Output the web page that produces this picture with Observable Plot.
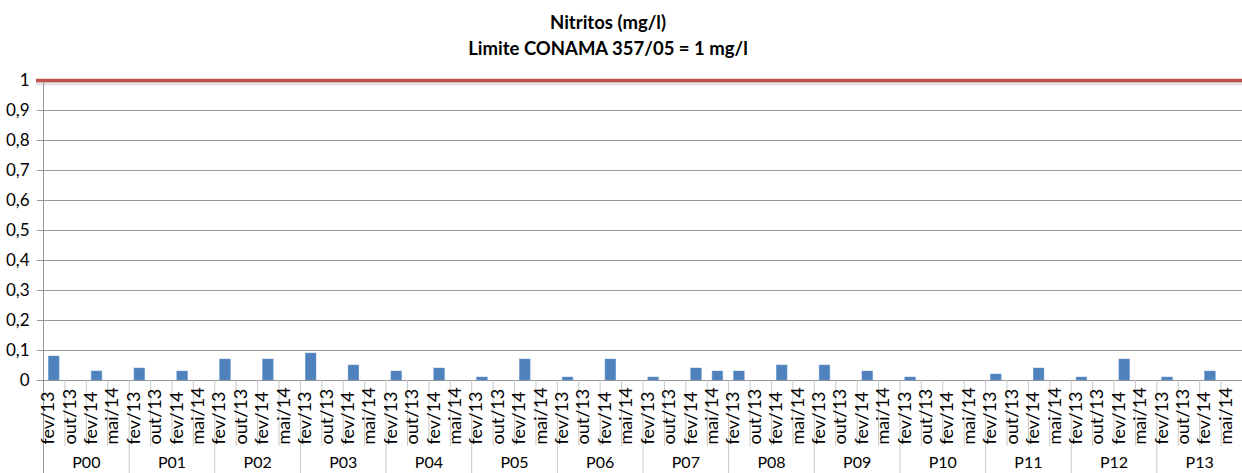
<!DOCTYPE html>
<html>
<head>
<meta charset="utf-8">
<script src="https://cdn.jsdelivr.net/npm/d3@7"></script>
<script src="https://cdn.jsdelivr.net/npm/@observablehq/plot@0.6"></script>
<style>
  html, body { margin: 0; padding: 0; background: #fff; }
  body { width: 1242px; height: 473px; overflow: hidden; font-family: Lato, "Open Sans", sans-serif; }
  #title { height: 62px; box-sizing: border-box; padding-top: 9px; text-align: center; font-weight: bold; font-size: 18.5px; line-height: 26px; color: #000; padding-right: 26px; }
</style>
</head>
<body>
<div id="title"><div>Nitritos (mg/l)</div><div>Limite CONAMA 357/05 = 1 mg/l</div></div>
<div id="chart"></div>
<script>
const groups = ["P00","P01","P02","P03","P04","P05","P06","P07","P08","P09","P10","P11","P12","P13"];
const months = ["fev/13","out/13","fev/14","mai/14"];
const fev13 = [0.08,0.04,0.07,0.09,0.03,0.01,0.01,0.01,0.03,0.05,0.01,0.02,0.01,0.01];
const out13 = [0,0,0,0,0,0,0,0,0,0,0,0,0,0];
const fev14 = [0.03,0.03,0.07,0.05,0.04,0.07,0.07,0.04,0.05,0.03,0,0.04,0.07,0.03];
const mai14 = [0,0,0,0,0,0,0,0.03,0,0,0,0,0,0];
const limit = [1];
const yTicks = [0,0.1,0.2,0.3,0.4,0.5,0.6,0.7,0.8,0.9,1];
const gridTicks = [0,0.1,0.2,0.3,0.4,0.5,0.6,0.7,0.8,0.9];

const series = [fev13, out13, fev14, mai14];
const rows = [];
groups.forEach((g, gi) => months.forEach((m, mi) => rows.push({group: g, month: m, key: g + "|" + m, value: series[mi][gi]})));
const keys = rows.map(d => d.key);

const width = 1242, height = 411, marginLeft = 43, marginRight = 0, marginTop = 18, marginBottom = 93;
const plotH = height - marginTop - marginBottom;
const step = (width - marginLeft - marginRight) / keys.length;
const font = "Lato, 'Open Sans', sans-serif";

const chart = Plot.plot({
  width, height, marginLeft, marginRight, marginTop, marginBottom,
  style: {fontFamily: font, fontSize: "16px", color: "#000", background: "#fff"},
  x: {type: "band", domain: keys, paddingInner: 0.5, paddingOuter: 0.25, round: false, axis: null},
  y: {domain: [0, 1], axis: null},
  marks: [
    Plot.gridY(gridTicks, {stroke: "#979797", strokeOpacity: 1, strokeWidth: 1}),
    Plot.axisY(yTicks, {tickSize: 6, tickPadding: 8, stroke: "#979797", fontSize: 17, tickFormat: d => String(d).replace(".", ","), label: null}),
    // left axis line, extending down to the bottom
    Plot.ruleX([keys[0]], {stroke: "#979797", dx: -step / 2, insetBottom: -marginBottom}),
    // separators between categories (tick-label area)
    Plot.ruleX(rows.filter(d => d.month !== "fev/13"), {x: "key", stroke: "#c8c8c8", dx: -step / 2, insetTop: plotH, insetBottom: -66}),
    // group separators
    Plot.ruleX(rows.filter(d => d.month === "fev/13" && d.group !== "P00"), {x: "key", stroke: "#c8c8c8", dx: -step / 2, insetTop: plotH, insetBottom: -marginBottom}),
    Plot.barY(rows.filter(d => d.value > 0), {x: "key", y: "value", fill: "#4f81bd", stroke: "#6f9bd0", strokeWidth: 0.5}),
    // limit line with soft shadow
    Plot.ruleY(limit, {stroke: "#b0b0b0", strokeOpacity: 0.35, strokeWidth: 4, dy: 3, insetLeft: -7}),
    Plot.ruleY(limit, {stroke: "#c0504d", strokeWidth: 3.5, insetLeft: -7}),
    // month labels
    Plot.text(rows, {x: "key", text: "month", rotate: -90, textAnchor: "start", frameAnchor: "bottom", dy: 64, fontSize: 18, fill: "#000"}),
    // group labels
    Plot.text(rows.filter(d => d.month === "fev/14"), {x: "key", text: "group", frameAnchor: "bottom", dy: 87, dx: -step / 2, fontSize: 16, fill: "#000"})
  ]
});
document.getElementById("chart").appendChild(chart);
</script>
</body>
</html>
